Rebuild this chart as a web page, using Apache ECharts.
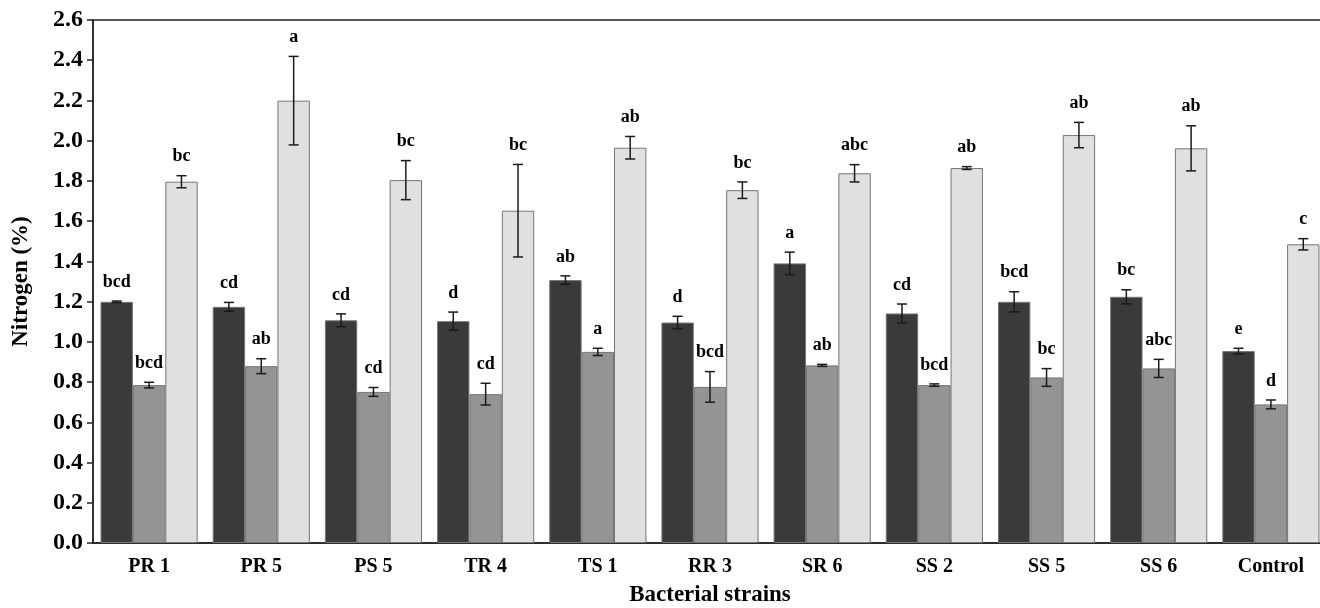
<!DOCTYPE html>
<html>
<head>
<meta charset="utf-8">
<script src="https://cdn.jsdelivr.net/npm/echarts@6/dist/echarts.min.js"></script>
<style>
  html, body { margin: 0; padding: 0; background: #fff; }
  #main { width: 1320px; height: 608px; }
</style>
</head>
<body>
<div id="main"></div>
<script>
// strains on the x axis
var strains = ["PR 1", "PR 5", "PS 5", "TR 4", "TS 1", "RR 3", "SR 6", "SS 2", "SS 5", "SS 6", "Control"];

// nitrogen (%) - three bars per strain (dark, medium, light)
var darkVals   = [1.199, 1.174, 1.107, 1.103, 1.307, 1.096, 1.390, 1.141, 1.199, 1.224, 0.954];
var mediumVals = [0.785, 0.879, 0.751, 0.740, 0.950, 0.776, 0.883, 0.785, 0.823, 0.868, 0.689];
var lightVals  = [1.796, 2.199, 1.804, 1.652, 1.965, 1.754, 1.838, 1.864, 2.028, 1.962, 1.485];

// standard errors
var darkErr   = [0.004, 0.022, 0.032, 0.045, 0.021, 0.031, 0.056, 0.047, 0.050, 0.035, 0.014];
var mediumErr = [0.014, 0.037, 0.022, 0.054, 0.018, 0.076, 0.005, 0.006, 0.044, 0.045, 0.022];
var lightErr  = [0.030, 0.220, 0.097, 0.230, 0.056, 0.041, 0.043, 0.007, 0.063, 0.112, 0.028];

// significance letters
var darkLetters   = ["bcd", "cd", "cd", "d", "ab", "d", "a", "cd", "bcd", "bc", "e"];
var mediumLetters = ["bcd", "ab", "cd", "cd", "a", "bcd", "ab", "bcd", "bc", "abc", "d"];
var lightLetters  = ["bc", "a", "bc", "bc", "ab", "bc", "abc", "ab", "ab", "ab", "c"];

var yTicks = { min: 0, max: 2.6, interval: 0.2 };

var serif = "'Liberation Serif', 'Times New Roman', serif";
var catGap = 0.134;

var myChart = echarts.init(document.getElementById("main"));

// error bars + letters drawn on top of bar k of each group
function errorSeries(k, vals, errs, letters) {
  return {
    type: "custom",
    z: 10,
    data: vals.map(function (v, i) { return [i, v, errs[i]]; }),
    renderItem: function (params, api) {
      var i = api.value(0);
      var mean = api.value(1);
      var e = api.value(2);
      var bw = api.size([1, 0])[0] * (1 - catGap) / 3;
      var base = api.coord([i, mean]);
      var x = base[0] + (k - 1) * bw;
      var top = api.coord([i, mean + e])[1];
      var bot = api.coord([i, mean - e])[1];
      var cap = 5;
      var st = { stroke: "#1a1a1a", lineWidth: 1.5 };
      return {
        type: "group",
        children: [
          { type: "line", shape: { x1: x, y1: top, x2: x, y2: bot }, style: st },
          { type: "line", shape: { x1: x - cap, y1: top, x2: x + cap, y2: top }, style: st },
          { type: "line", shape: { x1: x - cap, y1: bot, x2: x + cap, y2: bot }, style: st },
          {
            type: "text",
            x: x,
            y: top - 10,
            style: {
              text: letters[params.dataIndex],
              fill: "#000",
              font: "bold 18px " + serif,
              align: "center",
              verticalAlign: "bottom"
            }
          }
        ]
      };
    }
  };
}

var barBorder = { borderColor: "#767676", borderWidth: 1 };

var option = {
  animation: false,
  grid: {
    left: 93,
    top: 20,
    width: 1234,
    bottom: 65,
    outerBoundsMode: "none",
    containLabel: false,
    show: true,
    borderColor: "#222",
    borderWidth: 1.5,
    backgroundColor: "transparent"
  },
  xAxis: {
    type: "category",
    data: strains,
    name: "Bacterial strains",
    nameLocation: "middle",
    nameGap: 41,
    nameTextStyle: { fontFamily: serif, fontWeight: "bold", fontSize: 23, color: "#000" },
    axisLine: { lineStyle: { color: "#222", width: 1.5 } },
    axisTick: { length: 6, lineStyle: { color: "#222", width: 1.5 } },
    axisLabel: { fontFamily: serif, fontWeight: "bold", fontSize: 20, color: "#000", margin: 14 }
  },
  yAxis: {
    type: "value",
    min: yTicks.min,
    max: yTicks.max,
    interval: yTicks.interval,
    name: "Nitrogen (%)",
    nameLocation: "middle",
    nameRotate: 90,
    nameGap: 60,
    nameTextStyle: { fontFamily: serif, fontWeight: "bold", fontSize: 23, color: "#000" },
    splitLine: { show: false },
    axisLine: { show: true, lineStyle: { color: "#222", width: 1.5 } },
    axisTick: { show: true, length: 6, lineStyle: { color: "#222", width: 1.5 } },
    axisLabel: {
      fontFamily: serif, fontWeight: "bold", fontSize: 24, color: "#000", margin: 10,
      formatter: function (v) { return v.toFixed(1); }
    }
  },
  series: [
    {
      type: "bar", data: darkVals, barGap: "0%", barCategoryGap: (catGap * 100) + "%",
      itemStyle: Object.assign({ color: "#3a3a3a" }, barBorder)
    },
    {
      type: "bar", data: mediumVals, barGap: "0%", barCategoryGap: (catGap * 100) + "%",
      itemStyle: Object.assign({ color: "#949494" }, barBorder)
    },
    {
      type: "bar", data: lightVals, barGap: "0%", barCategoryGap: (catGap * 100) + "%",
      itemStyle: Object.assign({ color: "#e0e0e0" }, barBorder)
    },
    errorSeries(0, darkVals, darkErr, darkLetters),
    errorSeries(1, mediumVals, mediumErr, mediumLetters),
    errorSeries(2, lightVals, lightErr, lightLetters)
  ]
};

option && myChart.setOption(option);
</script>
</body>
</html>
